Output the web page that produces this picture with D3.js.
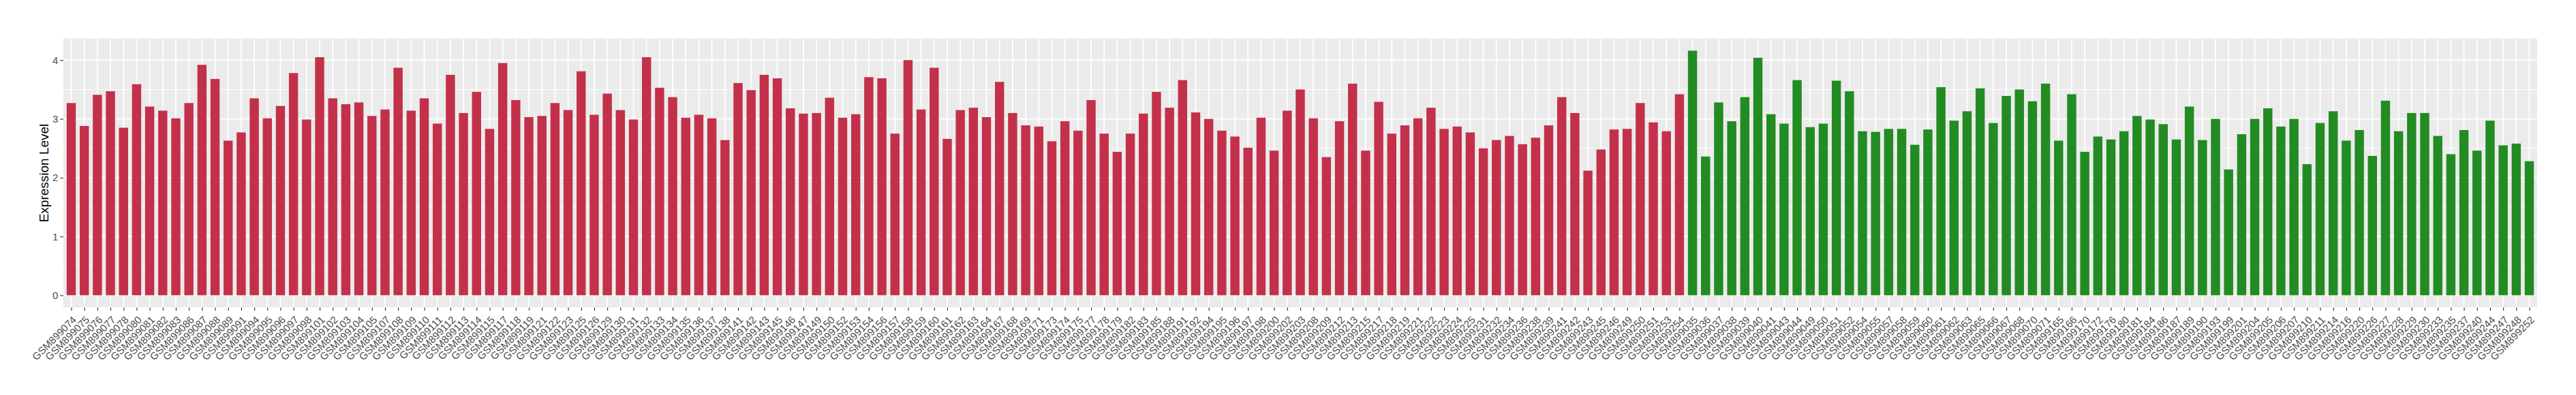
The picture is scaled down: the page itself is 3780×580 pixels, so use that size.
<!DOCTYPE html>
<html>
<head>
<meta charset="utf-8">
<script src="https://cdn.jsdelivr.net/npm/d3@7"></script>
<style>
  html, body { margin: 0; padding: 0; background: #ffffff; }
  svg { display: block; }
  text { font-family: "Liberation Sans", Arial, Helvetica, sans-serif; }
</style>
</head>
<body>
<svg id="chart" width="3780" height="580"></svg>
<script>
// ---- data ----
const redSamples = ["GSM899074","GSM899075","GSM899076","GSM899077","GSM899078","GSM899080","GSM899081","GSM899082","GSM899083","GSM899086","GSM899087","GSM899088","GSM899089","GSM899091","GSM899094","GSM899095",
"GSM899096","GSM899097","GSM899098","GSM899101","GSM899102","GSM899103","GSM899104","GSM899105","GSM899107","GSM899108","GSM899109","GSM899110","GSM899111","GSM899112","GSM899113","GSM899114","GSM899115","GSM899117","GSM899118","GSM899119",
"GSM899121","GSM899122","GSM899123","GSM899125","GSM899126","GSM899129","GSM899130","GSM899131","GSM899132","GSM899133","GSM899134","GSM899135","GSM899136","GSM899137","GSM899138","GSM899141","GSM899142","GSM899143","GSM899145","GSM899146",
"GSM899147","GSM899149","GSM899150","GSM899152","GSM899153","GSM899154","GSM899156","GSM899157","GSM899158","GSM899159","GSM899160","GSM899161","GSM899162","GSM899163","GSM899164","GSM899167","GSM899168","GSM899169","GSM899171",
"GSM899173","GSM899174","GSM899175","GSM899177","GSM899178","GSM899179","GSM899182","GSM899183","GSM899185","GSM899188","GSM899191","GSM899192","GSM899194","GSM899195","GSM899196","GSM899197","GSM899198","GSM899200","GSM899202","GSM899203",
"GSM899208","GSM899209","GSM899212","GSM899213","GSM899215","GSM899217","GSM899218","GSM899219","GSM899221","GSM899222","GSM899223","GSM899224","GSM899225","GSM899231","GSM899232","GSM899234","GSM899236","GSM899238","GSM899239","GSM899241",
"GSM899242","GSM899243","GSM899245","GSM899246","GSM899249","GSM899250","GSM899251","GSM899253","GSM899254"];
const redValues = [3.27,2.88,3.41,3.47,2.85,3.59,3.21,3.14,3.01,3.27,3.92,3.68,2.63,2.77,3.35,3.01,
3.22,3.78,2.99,4.05,3.35,3.25,3.28,3.05,3.16,3.87,3.14,3.35,2.92,3.75,3.10,3.46,2.83,3.95,3.32,3.03,
3.05,3.27,3.15,3.81,3.07,3.43,3.15,2.99,4.05,3.53,3.37,3.02,3.07,3.01,2.64,3.61,3.49,3.75,3.69,3.18,
3.09,3.10,3.36,3.02,3.08,3.71,3.69,2.75,4.00,3.16,3.87,2.66,3.15,3.19,3.03,3.63,3.10,2.89,2.87,
2.62,2.96,2.80,3.32,2.75,2.44,2.75,3.09,3.46,3.19,3.66,3.11,3.00,2.80,2.70,2.51,3.02,2.46,3.14,3.50,
3.01,2.35,2.96,3.60,2.46,3.29,2.75,2.89,3.01,3.19,2.83,2.87,2.77,2.50,2.64,2.71,2.57,2.68,2.89,3.37,
3.10,2.12,2.48,2.82,2.83,3.27,2.94,2.79,3.42];
const greenSamples = ["GSM899035","GSM899036","GSM899037","GSM899038","GSM899039","GSM899040","GSM899041","GSM899043","GSM899044","GSM899049","GSM899050",
"GSM899051","GSM899052","GSM899054","GSM899055","GSM899057","GSM899058","GSM899059","GSM899060","GSM899061","GSM899062","GSM899063","GSM899065","GSM899066","GSM899067","GSM899068","GSM899070","GSM899071","GSM899165","GSM899166",
"GSM899170","GSM899172","GSM899176","GSM899180","GSM899181","GSM899184","GSM899186","GSM899187","GSM899189","GSM899190","GSM899193","GSM899199","GSM899201","GSM899204","GSM899205","GSM899206","GSM899207","GSM899210","GSM899211","GSM899214",
"GSM899216","GSM899220","GSM899226","GSM899227","GSM899228","GSM899229","GSM899230","GSM899233","GSM899235","GSM899237","GSM899240","GSM899244","GSM899247","GSM899248","GSM899252"];
const greenValues = [4.16,2.36,3.28,2.96,3.37,4.04,3.08,2.92,3.66,2.86,2.92,
3.65,3.47,2.79,2.78,2.83,2.83,2.56,2.82,3.54,2.97,3.13,3.52,2.93,3.39,3.50,3.30,3.60,2.63,3.42,
2.44,2.70,2.65,2.79,3.05,2.99,2.91,2.65,3.21,2.64,3.00,2.14,2.74,3.00,3.18,2.87,3.00,2.23,2.93,3.13,
2.63,2.81,2.37,3.31,2.79,3.10,3.10,2.71,2.40,2.81,2.46,2.97,2.55,2.58,2.28];
const yTicks = [0, 1, 2, 3, 4];
const yMinor = [0.5, 1.5, 2.5, 3.5];
const yTitle = "Expression Level";
const redColor = "#C3304A";
const greenColor = "#228B22";

// ---- build ----
const rows = redSamples.map((s, i) => ({ s, v: redValues[i], c: redColor }))
  .concat(greenSamples.map((s, i) => ({ s, v: greenValues[i], c: greenColor })));

const panel = { left: 93, right: 3723, top: 56.5, bottom: 451.5 };
const maxV = d3.max(rows, d => d.v);
const pad = 0.05 * maxV;

const x = d3.scalePoint().domain(rows.map(d => d.s)).range([panel.left, panel.right]).padding(0.6);
const y = d3.scaleLinear().domain([-pad, maxV + pad]).range([panel.bottom, panel.top]);
const bw = x.step() * 0.7;

const svg = d3.select("#chart");

svg.append("rect").attr("x", panel.left).attr("y", panel.top)
  .attr("width", panel.right - panel.left).attr("height", panel.bottom - panel.top)
  .attr("fill", "#EBEBEB");

// minor grid
svg.append("g").selectAll("line").data(yMinor).join("line")
  .attr("x1", panel.left).attr("x2", panel.right)
  .attr("y1", d => y(d)).attr("y2", d => y(d))
  .attr("stroke", "#ffffff").attr("stroke-width", 0.9);
// major grid
svg.append("g").selectAll("line").data(yTicks).join("line")
  .attr("x1", panel.left).attr("x2", panel.right)
  .attr("y1", d => y(d)).attr("y2", d => y(d))
  .attr("stroke", "#ffffff").attr("stroke-width", 1.8);
svg.append("g").selectAll("line").data(rows).join("line")
  .attr("x1", d => x(d.s)).attr("x2", d => x(d.s))
  .attr("y1", panel.top).attr("y2", panel.bottom)
  .attr("stroke", "#ffffff").attr("stroke-width", 1.8);

// bars
svg.append("g").selectAll("rect").data(rows).join("rect")
  .attr("x", d => x(d.s) - bw / 2)
  .attr("width", bw)
  .attr("y", d => y(d.v))
  .attr("height", d => y(0) - y(d.v))
  .attr("fill", d => d.c);

// y axis
const yAxis = d3.axisLeft(y).tickValues(yTicks).tickSize(4.7).tickPadding(3).tickFormat(d3.format("d"));
const gy = svg.append("g").attr("transform", `translate(${panel.left},0)`).call(yAxis);
gy.select(".domain").remove();
gy.selectAll(".tick line").attr("stroke", "#333333").attr("stroke-width", 1.1);
gy.selectAll(".tick text").attr("fill", "#4D4D4D").style("font-size", "15px")
  .style("font-family", '"Liberation Sans", Arial, sans-serif');

// x axis
const xAxis = d3.axisBottom(x).tickSize(4.7).tickPadding(0);
const gx = svg.append("g").attr("transform", `translate(0,${panel.bottom})`).call(xAxis);
gx.select(".domain").remove();
gx.selectAll(".tick line").attr("stroke", "#333333").attr("stroke-width", 1.1);
gx.selectAll(".tick text")
  .attr("fill", "#4D4D4D").style("font-size", "15px")
  .style("font-family", '"Liberation Sans", Arial, sans-serif')
  .attr("text-anchor", "end")
  .attr("dy", null)
  .attr("y", 0)
  .attr("transform", "translate(8,19) rotate(-45)");

// y title
svg.append("text")
  .attr("transform", `translate(71,${(panel.top + panel.bottom) / 2}) rotate(-90)`)
  .attr("text-anchor", "middle")
  .attr("fill", "#000000")
  .style("font-size", "19px")
  .text(yTitle);
</script>
</body>
</html>
